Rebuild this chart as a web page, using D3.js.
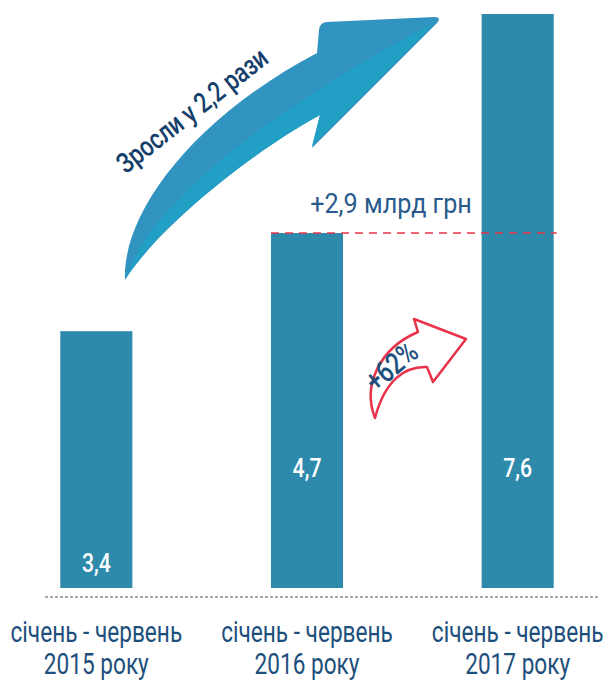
<!DOCTYPE html>
<html>
<head>
<meta charset="utf-8">
<script src="https://cdn.jsdelivr.net/npm/d3@7"></script>
<style>
  body { margin: 0; background: #fff; }
  svg { display: block; }
  text { font-family: Roboto, "Open Sans", sans-serif; }
</style>
</head>
<body>
<svg id="chart"></svg>
<script>
// Data
const categories = ["2015", "2016", "2017"];
const labelLines = [
    ["січень - червень", "2015 року"],
    ["січень - червень", "2016 року"],
    ["січень - червень", "2017 року"]
];
const values = [3.4, 4.7, 7.6];
const growthText = "Зросли у 2,2 рази";
const diffText = "+2,9 млрд грн";
const pctText = "+62%";

const width = 608, height = 681;
const barColor = "#2e8aab";
const darkBlue = "#1d4f7c";
const red = "#e8334a";

const svg = d3.select("#chart").attr("width", width).attr("height", height);

const x = d3.scaleBand()
    .domain(categories)
    .range([-9, 623])
    .paddingInner(0.658)
    .paddingOuter(0.329);

const y = d3.scaleLinear()
    .domain([0, 7.6])
    .range([588, 14]);

const fmt = v => d3.format(".1f")(v).replace(".", ",");

// condensed-looking text helper
function ctext(parent, tx, ty, str, opts) {
    const g = parent.append("g")
        .attr("transform", `translate(${tx},${ty}) rotate(${opts.rotate || 0}) scale(${opts.sx || 0.82},1)`);
    return g.append("text")
        .attr("text-anchor", opts.anchor || "middle")
        .attr("font-size", opts.size)
        .attr("font-weight", opts.weight || 400)
        .attr("fill", opts.fill)
        .text(str);
}

// bars
svg.selectAll(".bar").data(values).enter().append("rect")
    .attr("class", "bar")
    .attr("x", (d, i) => x(categories[i]))
    .attr("y", d => y(d))
    .attr("width", x.bandwidth())
    .attr("height", d => y(0) - y(d))
    .attr("fill", barColor);

// value labels
values.forEach((v, i) => {
    const cx = x(categories[i]) + x.bandwidth() / 2;
    const ly = i === 0 ? y(0) - 16 : y(0) - 111;
    ctext(svg, cx, ly, fmt(v), { size: 25, fill: "#fff", weight: 500, sx: 0.85 });
});

// baseline
svg.append("line")
    .attr("x1", 45).attr("x2", 600)
    .attr("y1", y(0) + 9).attr("y2", y(0) + 9)
    .attr("stroke", "#555").attr("stroke-width", 1)
    .attr("stroke-dasharray", "3,2");

// category labels
labelLines.forEach((lines, i) => {
    const cx = x(categories[i]) + x.bandwidth() / 2;
    lines.forEach((l, j) => {
        ctext(svg, cx, 642 + j * 32, l, { size: 29, fill: darkBlue, sx: 0.78 });
    });
});

// red dashed reference at 2016 level
svg.append("line")
    .attr("x1", x(categories[1])).attr("x2", x(categories[2]) + x.bandwidth() + 3)
    .attr("y1", y(values[1])).attr("y2", y(values[1]))
    .attr("stroke", red).attr("stroke-width", 1.5)
    .attr("stroke-dasharray", "8,6");

ctext(svg, 391, 213, diffText, { size: 28, fill: "#2a5a8c", sx: 0.9, weight: 400 });

// big blue arrow
svg.append("path")
    .attr("d", "M125,280 C122,215 190,120 317,53 L319,30 Q320,22 327,22 L434,17 Q442,17 437,23 L312,148 L320,115 C255,150 160,225 125,280 Z")
    .attr("fill", "#3193bf");
svg.append("path")
    .attr("d", "M127,276 C150,205 260,115 437,21 L312,146 L320,115 C255,150 160,225 127,276 Z")
    .attr("fill", "#229fc4");

ctext(svg, 198, 118, growthText, { size: 28, fill: "#163f6c", weight: 500, sx: 0.8, rotate: -38 });

// small red arrow
svg.append("path")
    .attr("d", "M375,418 C362,385 380,348 418,332 L414,319 L466,339 L433,382 L427,367 C405,366 385,380 375,418 Z")
    .attr("fill", "#fff")
    .attr("stroke", red)
    .attr("stroke-width", 2.5)
    .attr("stroke-linejoin", "round");

ctext(svg, 398, 374, pctText, { size: 30, fill: darkBlue, weight: 500, sx: 0.8, rotate: -40 });
</script>
</body>
</html>
